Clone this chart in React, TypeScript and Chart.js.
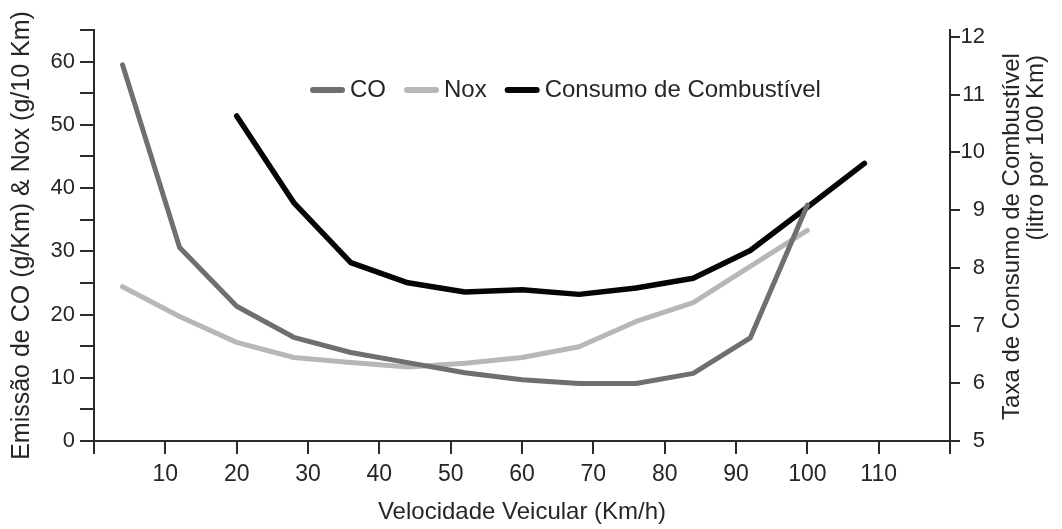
import React, { useEffect, useRef } from "react";
import { Chart, registerables } from "chart.js";

Chart.register(...registerables);

const FONT = "'Liberation Sans', Arial, Helvetica, sans-serif";

// Speed (km/h) at which each vertex was sampled
const emissionSpeeds = [4, 12, 20, 28, 36, 44, 52, 60, 68, 76, 84, 92, 100];
const coValues = [59.5, 30.6, 21.3, 16.4, 14.0, 12.4, 10.8, 9.7, 9.1, 9.1, 10.7, 16.3, 37.3];
const noxValues = [24.4, 19.7, 15.6, 13.2, 12.4, 11.7, 12.3, 13.2, 14.9, 18.9, 21.9, 27.6, 33.3];

const fuelSpeeds = [20, 28, 36, 44, 52, 60, 68, 76, 84, 92, 100, 108];
const fuelValues = [10.63, 9.13, 8.09, 7.74, 7.58, 7.62, 7.54, 7.65, 7.82, 8.3, 9.05, 9.81];

const seriesLabels = ["CO", "Nox", "Consumo de Combustível"];
const seriesColors = ["#6f6f6f", "#b7b7b7", "#050505"];

const leftTitle = "Emissão de CO (g/Km) & Nox (g/10 Km)";
const rightTitleLines = ["Taxa de Consumo de Combustível", "(litro por 100 Km)"];
const xTitle = "Velocidade Veicular (Km/h)";

const AXIS_COLOR = "#2b2b2b";
const TEXT_COLOR = "#262626";

const toPoints = (xs: number[], ys: number[]) => xs.map((x, i) => ({ x, y: ys[i] }));

const inlineLegend = {
  id: "inlineLegend",
  afterDatasetsDraw(chart: any) {
    const ctx = chart.ctx as CanvasRenderingContext2D;
    ctx.save();
    ctx.font = `24px ${FONT}`;
    ctx.textBaseline = "middle";
    ctx.textAlign = "left";
    let x = chart.chartArea.left + 216;
    const y = chart.chartArea.top + 60;
    chart.data.datasets.forEach((ds: any) => {
      ctx.strokeStyle = ds.borderColor;
      ctx.lineWidth = 6;
      ctx.lineCap = "round";
      ctx.beginPath();
      ctx.moveTo(x + 3, y);
      ctx.lineTo(x + 32, y);
      ctx.stroke();
      x += 40;
      ctx.fillStyle = TEXT_COLOR;
      ctx.fillText(ds.label, x, y);
      x += ctx.measureText(ds.label).width + 18;
    });
    ctx.restore();
  },
};

const rightTitle = {
  id: "rightTitle",
  afterDraw(chart: any) {
    const ctx = chart.ctx as CanvasRenderingContext2D;
    const area = chart.chartArea;
    ctx.save();
    ctx.font = `24px ${FONT}`;
    ctx.fillStyle = TEXT_COLOR;
    ctx.textBaseline = "middle";
    ctx.save();
    ctx.translate(area.right + 62, (area.top + area.bottom) / 2 + 1);
    ctx.rotate(-Math.PI / 2);
    ctx.textAlign = "center";
    ctx.fillText(rightTitleLines[0], 0, 0);
    ctx.restore();
    ctx.save();
    ctx.translate(area.right + 86, area.top + 25);
    ctx.rotate(-Math.PI / 2);
    ctx.textAlign = "right";
    ctx.fillText(rightTitleLines[1], 0, 0);
    ctx.restore();
    ctx.restore();
  },
};

export default function App() {
  const ref = useRef<HTMLCanvasElement | null>(null);

  useEffect(() => {
    if (!ref.current) return;
    Chart.defaults.font.family = FONT;
    Chart.defaults.color = TEXT_COLOR;

    const grid = {
      drawOnChartArea: false,
      drawTicks: true,
      color: AXIS_COLOR,
      tickColor: AXIS_COLOR,
      lineWidth: 2,
      tickWidth: 2,
    };
    const border = { display: true, color: AXIS_COLOR, width: 2 };

    const chart = new Chart(ref.current, {
      type: "line",
      data: {
        datasets: [
          {
            label: seriesLabels[0],
            data: toPoints(emissionSpeeds, coValues),
            borderColor: seriesColors[0],
            backgroundColor: seriesColors[0],
            borderWidth: 5,
            yAxisID: "y",
          },
          {
            label: seriesLabels[1],
            data: toPoints(emissionSpeeds, noxValues),
            borderColor: seriesColors[1],
            backgroundColor: seriesColors[1],
            borderWidth: 5,
            yAxisID: "y",
          },
          {
            label: seriesLabels[2],
            data: toPoints(fuelSpeeds, fuelValues),
            borderColor: seriesColors[2],
            backgroundColor: seriesColors[2],
            borderWidth: 5.5,
            yAxisID: "y1",
          },
        ],
      },
      options: {
        responsive: false,
        animation: false,
        layout: { padding: { top: 30, left: 0, right: 77, bottom: 0 } },
        elements: {
          point: { radius: 0, hoverRadius: 0 },
          line: { tension: 0, borderCapStyle: "round", borderJoinStyle: "round" },
        },
        plugins: {
          legend: { display: false },
          tooltip: { enabled: false },
        },
        scales: {
          x: {
            type: "linear",
            position: "bottom",
            min: 0,
            max: 120,
            grid: { ...grid, tickLength: 13 },
            border,
            ticks: {
              stepSize: 10,
              padding: 7,
              font: { size: 23 },
              color: TEXT_COLOR,
              maxRotation: 0,
              autoSkip: false,
              callback: (v: any) => (v === 0 || v === 120 ? "" : String(v)),
            },
            title: {
              display: true,
              text: xTitle,
              font: { size: 24 },
              color: TEXT_COLOR,
              padding: { top: 0, bottom: 2 },
            },
            afterFit: (s: any) => {
              s.height = 88;
            },
          },
          y: {
            type: "linear",
            position: "left",
            min: 0,
            max: 65,
            grid: { ...grid, tickLength: 14 },
            border,
            ticks: {
              stepSize: 5,
              padding: 5,
              font: { size: 22 },
              color: TEXT_COLOR,
              autoSkip: false,
              callback: (v: any) => (v % 10 === 0 && v <= 60 ? String(v) : ""),
            },
            title: {
              display: true,
              text: leftTitle,
              font: { size: 25 },
              color: TEXT_COLOR,
              padding: { top: 7, bottom: 0 },
            },
            afterFit: (s: any) => {
              s.width = 94;
            },
          },
          y1: {
            type: "linear",
            position: "right",
            min: 5,
            max: 12.12,
            grid: { ...grid, tickLength: 10 },
            border,
            ticks: {
              stepSize: 1,
              includeBounds: false,
              padding: 1,
              crossAlign: "far",
              font: { size: 22 },
              color: TEXT_COLOR,
              autoSkip: false,
              callback: (v: any) => String(v),
            },
            afterFit: (s: any) => {
              s.width = 35;
            },
          },
        },
      },
      plugins: [inlineLegend, rightTitle],
    } as any);

    return () => chart.destroy();
  }, []);

  return (
    <div style={{ position: "fixed", left: 0, top: 0, width: 1062, height: 529, background: "#fff" }}>
      <canvas ref={ref} width={1062} height={529} style={{ display: "block" }} />
    </div>
  );
}
